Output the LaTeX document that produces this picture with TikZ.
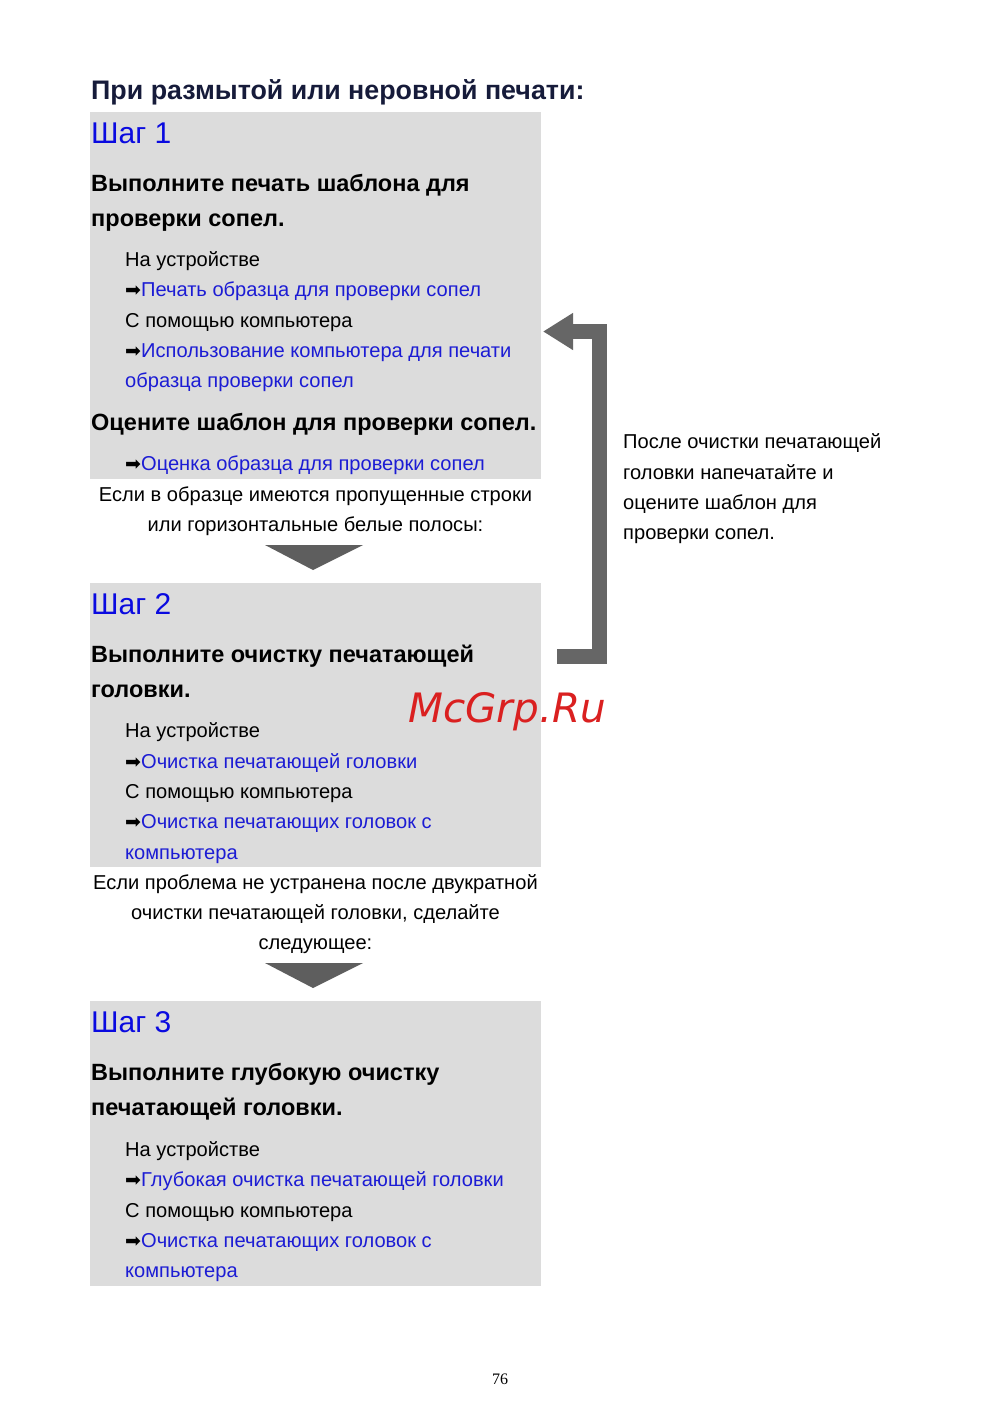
\documentclass[tikz,border=0pt]{standalone}
\usepackage{fontspec}
\setmainfont{Liberation Sans}
\newfontfamily\symfont{DejaVu Sans}
\newfontfamily\wmfont{DejaVu Sans}
\newfontfamily\pgfont{Liberation Serif}
\usetikzlibrary{arrows.meta,positioning,calc}
\definecolor{pgray}{HTML}{DCDCDC}
\definecolor{pnavy}{HTML}{161B3A}
\definecolor{pblue}{HTML}{0A0AE0}
\definecolor{plink}{HTML}{1C1CD4}
\definecolor{pdark}{HTML}{666666}
\definecolor{ptri}{HTML}{5E5E5E}
\definecolor{pred}{HTML}{DA2020}
\newcommand{\lk}[1]{{\symfont\fontsize{19}{19}\selectfont ➡}\textcolor{plink}{#1}}
\tikzset{
  stepbox/.style={fill=pgray,anchor=north west,minimum width=451pt,inner sep=0pt},
  steplbl/.style={anchor=base west,inner sep=0pt,text=pblue,font=\fontsize{30}{36}\selectfont},
  head/.style={anchor=base west,inner sep=0pt,font=\fontsize{23.5}{35}\selectfont\bfseries},
  txt/.style={anchor=base west,inner sep=0pt,font=\fontsize{20.1}{30}\selectfont},
  lnk/.style={txt,text=plink},
  note/.style={anchor=base,inner sep=0pt,font=\fontsize{20.1}{30}\selectfont},
  loop/.style={line width=15pt,draw=pdark,-{Triangle[length=30pt,width=35pt]}},
  tri/.style={fill=ptri},
  wmark/.style={anchor=base west,inner sep=0pt,text=pred,font=\wmfont\itshape\fontsize{40.5}{40}\selectfont},
}
\begin{document}
\begin{tikzpicture}[x=1pt,y=-1pt]
  \useasboundingbox[fill=white] (0,0) rectangle (1000,1414);
  \node[head,text=pnavy,font=\fontsize{26.8}{30}\selectfont\bfseries] (title) at (91,99) {При размытой или неровной печати:};
  % step 1
  \node[stepbox,minimum height=367pt] (box1) at (90,112) {};
  \node[steplbl] (s1) at (91,143) {Шаг 1};
  \node[head] (h1a) at (91,191) {Выполните печать шаблона для};
  \node[head] (h1b) at (91,226) {проверки сопел.};
  \node[txt] (d1) at (125,266) {На устройстве};
  \node[txt] (l1) at (125,296) {\lk{Печать образца для проверки сопел}};
  \node[txt] (c1) at (125,327) {С помощью компьютера};
  \node[txt] (l2) at (125,357) {\lk{Использование компьютера для печати}};
  \node[lnk] (l2b) at (125,387) {образца проверки сопел};
  \node[head] (h1c) at (91,430) {Оцените шаблон для проверки сопел.};
  \node[txt] (l3) at (125,470) {\lk{Оценка образца для проверки сопел}};
  \node[note] (n1a) at (315.5,501) {Если в образце имеются пропущенные строки};
  \node[note] (n1b) at (315.5,531) {или горизонтальные белые полосы:};
  \coordinate (t1l) at (265,545);
  \coordinate (t1r) at (363,545);
  \coordinate (t1b) at (313,570);
  \fill[tri] (t1l) -- (t1r) -- (t1b) -- cycle;
  % step 2
  \node[stepbox,minimum height=284pt] (box2) at (90,583) {};
  \node[steplbl] (s2) at (91,614) {Шаг 2};
  \node[head] (h2a) at (91,662) {Выполните очистку печатающей};
  \node[head] (h2b) at (91,697) {головки.};
  \node[txt] (d2) at (125,737) {На устройстве};
  \node[txt] (l4) at (125,768) {\lk{Очистка печатающей головки}};
  \node[txt] (c2) at (125,798) {С помощью компьютера};
  \node[txt] (l5) at (125,828) {\lk{Очистка печатающих головок с}};
  \node[lnk] (l5b) at (125,859) {компьютера};
  \node[note] (n2a) at (315.5,889) {Если проблема не устранена после двукратной};
  \node[note] (n2b) at (315.5,919) {очистки печатающей головки, сделайте};
  \node[note] (n2c) at (315.5,949) {следующее:};
  \coordinate (t2l) at (265,963);
  \coordinate (t2r) at (363,963);
  \coordinate (t2b) at (313,988);
  \fill[tri] (t2l) -- (t2r) -- (t2b) -- cycle;
  % step 3
  \node[stepbox,minimum height=285pt] (box3) at (90,1001) {};
  \node[steplbl] (s3) at (91,1032) {Шаг 3};
  \node[head] (h3a) at (91,1080) {Выполните глубокую очистку};
  \node[head] (h3b) at (91,1115) {печатающей головки.};
  \node[txt] (d3) at (125,1156) {На устройстве};
  \node[txt] (l6) at (125,1186) {\lk{Глубокая очистка печатающей головки}};
  \node[txt] (c3) at (125,1217) {С помощью компьютера};
  \node[txt] (l7) at (125,1247) {\lk{Очистка печатающих головок с}};
  \node[lnk] (l7b) at (125,1277) {компьютера};
  % loop back to step 1
  \coordinate (lpfrom) at (557,656.5);
  \coordinate (lpto) at (543,331.5);
  \draw[loop] (lpfrom) -- (599.5,656.5) -- (599.5,331.5) -- (lpto);
  \node[txt] (r1) at (623,448) {После очистки печатающей};
  \node[txt] (r2) at (623,479) {головки напечатайте и};
  \node[txt] (r3) at (623,509) {оцените шаблон для};
  \node[txt] (r4) at (623,539) {проверки сопел.};
  \node[wmark] (wm) at (408,722) {McGrp.Ru};
  \node[anchor=base,inner sep=0pt,font=\pgfont\fontsize{16}{16}\selectfont] (pg) at (500,1384) {76};
\end{tikzpicture}
\end{document}
